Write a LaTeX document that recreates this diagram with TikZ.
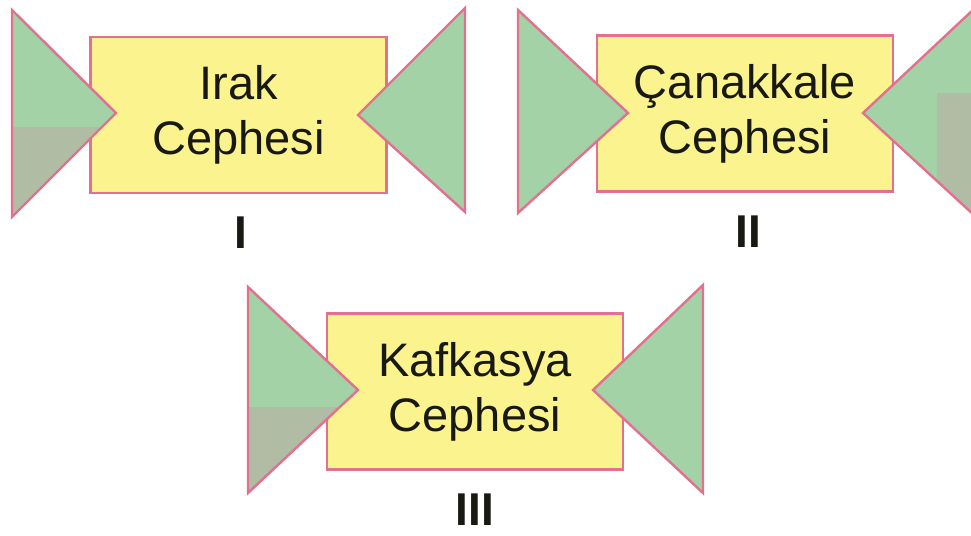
\documentclass[tikz,border=0pt]{standalone}
\usepackage{fontspec}
\setmainfont{Liberation Sans}
\definecolor{pinkb}{RGB}{226,112,142}
\definecolor{yellowf}{RGB}{250,243,142}
\definecolor{greenf}{RGB}{162,210,166}
\definecolor{greyf}{RGB}{176,188,163}
\definecolor{inkc}{RGB}{25,25,20}
\tikzset{
  box/.style={draw=pinkb, line width=2.6pt, fill=yellowf, minimum width=296pt, minimum height=156pt,
    align=center, text=inkc, font=\fontsize{47}{55}\selectfont, inner sep=0pt},
  tri/.style={draw=pinkb, line width=2.4pt, fill=greenf, line join=miter},
  numlab/.style={text=inkc, font=\fontsize{46}{50}\selectfont\bfseries, anchor=base, inner sep=0pt}
}
\begin{document}
\begin{tikzpicture}[x=1pt, y=-1pt]
\useasboundingbox (0,0) rectangle (971,535);
\fill[white] (0,0) rectangle (971,535);
\begin{scope}
\clip (0,0) rectangle (971,535);
% group I
\node[box] (r1) at (238.5,115) {Irak\\Cephesi};
\coordinate (a1) at (12,10); \coordinate (a2) at (12,217); \coordinate (a3) at (116,113);
\fill[greenf] (a1) -- (a2) -- (a3) -- cycle;
\begin{scope}\clip (0,127) rectangle (200,230);
\fill[greyf] (a1) -- (a2) -- (a3) -- cycle;\end{scope}
\draw[tri, fill=none] (a1) -- (a2) -- (a3) -- cycle;
\coordinate (b1) at (465,8); \coordinate (b2) at (465,212); \coordinate (b3) at (358,115);
\draw[tri] (b1) -- (b2) -- (b3) -- cycle;
\node[numlab] (n1) at (241,248) {I};
% group II
\node[box] (r2) at (745,113.5) {Çanakkale\\Cephesi};
\coordinate (c1) at (518,10); \coordinate (c2) at (518,213); \coordinate (c3) at (628,113);
\draw[tri] (c1) -- (c2) -- (c3) -- cycle;
\coordinate (d1) at (975,8); \coordinate (d2) at (975,216); \coordinate (d3) at (863,113);
\fill[greenf] (d1) -- (d2) -- (d3) -- cycle;
\begin{scope}\clip (937,93) rectangle (980,230);
\fill[greyf] (d1) -- (d2) -- (d3) -- cycle;\end{scope}
\draw[tri, fill=none] (d1) -- (d2) -- (d3) -- cycle;
\node[numlab] (n2) at (748,247) {II};
% group III
\node[box] (r3) at (475,391.5) {Kafkasya\\Cephesi};
\coordinate (e1) at (248,287); \coordinate (e2) at (248,493); \coordinate (e3) at (358,390);
\fill[greenf] (e1) -- (e2) -- (e3) -- cycle;
\begin{scope}\clip (240,407) rectangle (400,500);
\fill[greyf] (e1) -- (e2) -- (e3) -- cycle;\end{scope}
\draw[tri, fill=none] (e1) -- (e2) -- (e3) -- cycle;
\coordinate (f1) at (703,285); \coordinate (f2) at (703,493); \coordinate (f3) at (593,390);
\draw[tri] (f1) -- (f2) -- (f3) -- cycle;
\node[numlab] (n3) at (475,525) {III};
\end{scope}
\end{tikzpicture}
\end{document}
